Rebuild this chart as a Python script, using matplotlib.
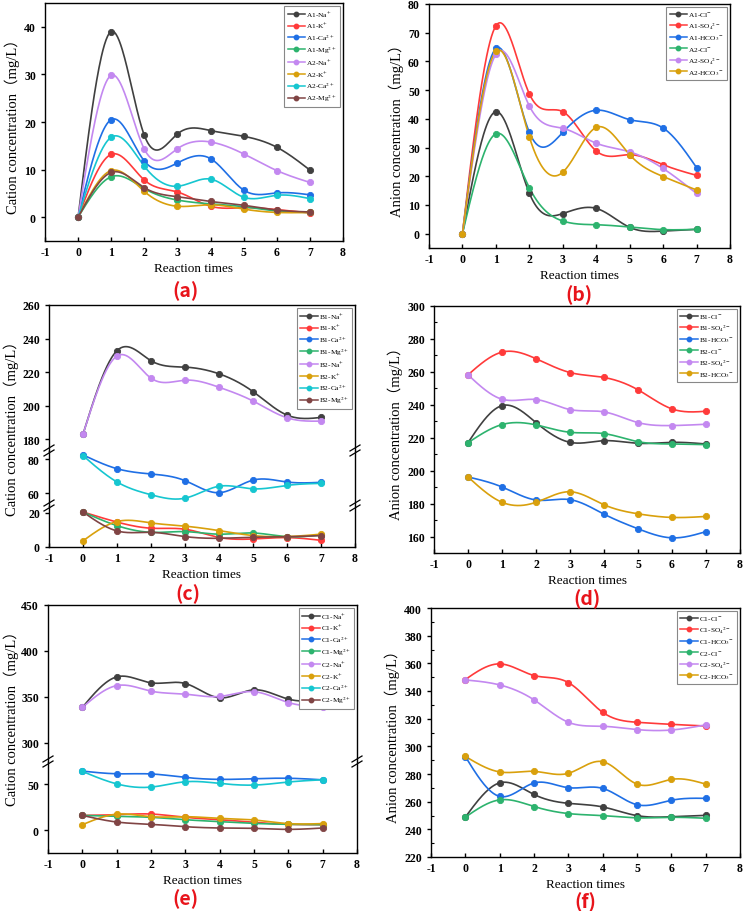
import numpy as np
import matplotlib
matplotlib.use('Agg')
import matplotlib.pyplot as plt
from matplotlib.lines import Line2D

plt.rcParams['font.family'] = ['Liberation Serif', 'Noto Sans CJK SC', 'DejaVu Sans']
plt.rcParams['mathtext.fontset'] = 'stix'
plt.rcParams['axes.unicode_minus'] = False

# ---------------- data ----------------
times = [0, 1, 2, 3, 4, 5, 6, 7]

# (a) cations, group A
a_labels = ['A1-Na$^{+}$', 'A1-K$^{+}$', 'A1-Ca$^{2+}$', 'A1-Mg$^{2+}$',
            'A2-Na$^{+}$', 'A2-K$^{+}$', 'A2-Ca$^{2+}$', 'A2-Mg$^{2+}$']
a1_na = [0, 39.0, 17.2, 17.5, 18.2, 17.0, 14.7, 9.9]
a1_k = [0, 13.2, 7.8, 5.3, 2.3, 2.0, 1.6, 0.9]
a1_ca = [0, 20.5, 11.8, 11.4, 12.3, 5.7, 5.1, 4.7]
a1_mg = [0, 8.5, 6.0, 3.6, 2.8, 2.2, 1.3, 1.0]
a2_na = [0, 29.8, 14.3, 14.4, 15.8, 13.3, 9.8, 7.3]
a2_k = [0, 9.8, 5.4, 2.3, 2.6, 1.7, 1.0, 1.0]
a2_ca = [0, 16.8, 10.7, 6.5, 8.0, 4.2, 4.6, 3.9]
a2_mg = [0, 9.4, 6.2, 4.3, 3.3, 2.5, 1.5, 1.1]

# (b) anions, group A
b_labels = ['A1-Cl$^{-}$', 'A1-SO$_4$$^{2-}$', 'A1-HCO$_3$$^{-}$',
            'A2-Cl$^{-}$', 'A2-SO$_4$$^{2-}$', 'A2-HCO$_3$$^{-}$']
a1_cl = [0, 42.5, 14.1, 7.0, 8.8, 2.2, 0.9, 1.5]
a1_so4 = [0, 72.4, 48.7, 42.5, 28.8, 27.5, 24.0, 20.3]
a1_hco3 = [0, 64.5, 35.3, 35.3, 43.0, 39.7, 36.8, 23.0]
a2_cl = [0, 34.8, 16.0, 4.4, 3.1, 2.3, 1.4, 1.5]
a2_so4 = [0, 62.5, 44.5, 36.7, 31.5, 28.5, 22.7, 14.0]
a2_hco3 = [0, 63.5, 33.7, 21.4, 37.0, 27.5, 19.9, 15.2]

# (c) cations, group B
c_labels = [s.replace('A', 'B') for s in a_labels]
b1_na = [183.0, 232.8, 226.8, 223.0, 219.0, 208.4, 194.4, 193.0]
b1_k = [20.5, 14.6, 11.0, 10.4, 5.6, 4.7, 5.5, 3.9]
b1_ca = [82.4, 74.3, 71.2, 67.3, 60.2, 67.6, 66.5, 66.3]
b1_mg = [20.5, 12.5, 8.6, 9.0, 7.5, 8.2, 6.1, 7.0]
b2_na = [183.0, 229.6, 216.4, 215.2, 211.0, 202.8, 192.8, 190.8]
b2_k = [3.6, 14.9, 14.1, 12.2, 9.6, 6.7, 6.1, 7.5]
b2_ca = [82.0, 66.5, 59.0, 57.0, 64.0, 62.5, 64.5, 65.7]
b2_mg = [20.5, 9.4, 8.6, 6.1, 5.1, 5.7, 6.0, 6.7]

# (d) anions, group B
d_labels = [s.replace('A', 'B') for s in b_labels]
b1_cl = [217.0, 239.5, 229.2, 217.2, 218.2, 216.6, 217.2, 216.2]
b1_so4 = [258.2, 272.0, 268.0, 259.6, 256.6, 249.1, 237.5, 236.1]
b1_hco3 = [196.2, 190.1, 182.2, 182.4, 173.6, 164.7, 159.2, 163.0]
b2_cl = [217.0, 228.0, 227.8, 223.3, 222.5, 217.6, 216.2, 215.8]
b2_so4 = [258.2, 243.4, 243.2, 237.1, 235.7, 229.2, 227.4, 228.2]
b2_hco3 = [196.2, 180.8, 180.8, 187.2, 179.3, 173.8, 171.6, 172.2]

# (e) cations, group C
e_labels = [s.replace('A', 'C') for s in a_labels]
c1_na = [338.4, 371.7, 365.2, 364.5, 348.9, 357.6, 347.5, 346.4]
c1_k = [15.9, 16.7, 17.4, 13.8, 11.2, 8.3, 6.2, 5.8]
c1_ca = [64.1, 61.2, 61.0, 57.2, 55.1, 55.8, 56.3, 54.6]
c1_mg = [15.9, 14.9, 13.8, 11.2, 9.1, 7.2, 6.2, 5.8]
c2_na = [338.4, 362.2, 356.2, 352.9, 350.4, 355.6, 343.8, 339.1]
c2_k = [5.8, 17.2, 14.5, 14.5, 12.7, 10.9, 7.0, 7.0]
c2_ca = [63.8, 50.2, 46.7, 52.5, 50.7, 48.9, 52.2, 54.7]
c2_mg = [15.9, 8.7, 6.2, 3.6, 2.2, 1.8, 0.7, 2.2]

# (f) anions, group C
f_labels = [s.replace('A', 'C') for s in b_labels]
c1_cl = [248.8, 273.6, 265.2, 258.8, 256.2, 249.9, 249.1, 250.1]
c1_so4 = [348.3, 359.6, 351.2, 346.1, 324.6, 317.4, 315.9, 314.7]
c1_hco3 = [292.6, 263.8, 273.5, 270.1, 269.6, 257.8, 261.0, 262.4]
c2_cl = [248.8, 261.3, 256.5, 251.4, 249.9, 248.3, 248.7, 248.0]
c2_so4 = [348.0, 344.4, 333.6, 317.4, 314.5, 312.1, 311.8, 315.5]
c2_hco3 = [292.7, 281.5, 281.9, 280.5, 288.9, 272.7, 276.1, 272.7]

cation_colors = ['#404040', '#FF3A3A', '#1F6FE5', '#2DB36E',
                 '#C388F0', '#D9A00C', '#16C6D0', '#804444']
anion_colors = ['#404040', '#FF3A3A', '#1F6FE5', '#2DB36E', '#C388F0', '#D9A00C']

W, H = 744, 912
fig = plt.figure(figsize=(W / 100, H / 100), dpi=100)


def smooth(x, y, num=300):
    # natural cubic spline, like Origin's spline connection
    x = np.asarray(x, float)
    y = np.asarray(y, float)
    n = len(x)
    h = np.diff(x)
    A = np.zeros((n, n))
    b = np.zeros(n)
    A[0, 0] = A[-1, -1] = 1
    for i in range(1, n - 1):
        A[i, i - 1] = h[i - 1]
        A[i, i] = 2 * (h[i - 1] + h[i])
        A[i, i + 1] = h[i]
        b[i] = 6 * ((y[i + 1] - y[i]) / h[i] - (y[i] - y[i - 1]) / h[i - 1])
    M = np.linalg.solve(A, b)
    xs = np.linspace(x[0], x[-1], num)
    idx = np.clip(np.searchsorted(x, xs) - 1, 0, n - 2)
    x0, x1 = x[idx], x[idx + 1]
    hh = x1 - x0
    t0, t1 = x1 - xs, xs - x0
    ys = ((M[idx] * t0 ** 3 + M[idx + 1] * t1 ** 3) / (6 * hh)
          + (y[idx] / hh - M[idx] * hh / 6) * t0
          + (y[idx + 1] / hh - M[idx + 1] * hh / 6) * t1)
    return xs, ys


def px_axes(l, t, r, b):
    return fig.add_axes([l / W, 1 - b / H, (r - l) / W, (b - t) / H])


def draw(ax, ys, color):
    xs, ss = smooth(times, ys)
    ax.plot(xs, ss, color=color, lw=1.2, zorder=2)
    ax.plot(times, ys, ls='none', marker='o', ms=4.5, mfc=color,
            mec=color, mew=0.6, zorder=3)


def style(ax, xticks=True, minor=False):
    ax.set_xlim(-1, 8)
    ax.tick_params(axis='x', direction='in', length=3, width=1, labelsize=8.5)
    ax.tick_params(axis='y', direction='out', length=3, width=1, labelsize=8.5)
    if xticks:
        ax.set_xticks(range(-1, 9), labels=[str(v) for v in range(-1, 9)],
                      fontweight='bold')
    else:
        ax.set_xticks([])
    yt = ax.get_yticks()
    ax.set_yticks(yt, labels=[str(int(v)) for v in yt], fontweight='bold')
    if minor:
        ax.yaxis.set_minor_locator(matplotlib.ticker.AutoMinorLocator(2))
        ax.tick_params(axis='y', which='minor', direction='in', length=2, width=0.8)
    for sp in ax.spines.values():
        sp.set_linewidth(1.0)


def legend(ax, labels, colors):
    handles = [Line2D([], [], color=c, lw=1.1, marker='o', ms=3.2, mfc=c, mec=c)
               for c in colors]
    leg = ax.legend(handles, labels, loc='upper right', fontsize=5.3,
                    frameon=True, fancybox=False, edgecolor='#888888',
                    framealpha=1, borderpad=0.45, labelspacing=0.32,
                    handlelength=2.4, handletextpad=0.15, borderaxespad=0.4)
    leg.get_frame().set_linewidth(0.8)


def ylab(ax, text):
    ax.set_ylabel(text, fontsize=10.5, labelpad=3)


def xlab(ax):
    ax.set_xlabel('Reaction times', fontsize=9.5, labelpad=3)


def letter(x, y, s):
    fig.text(x / W, 1 - y / H, s, color='#E8141B', fontsize=14,
             fontweight='bold', ha='center', va='center',
             family=['Noto Sans CJK SC', 'DejaVu Sans'])


def break_marks(y, xs):
    for x in xs:
        for off in (-3, 2):
            fig.add_artist(Line2D([(x - 5) / W, (x + 5) / W],
                                  [1 - (y + off + 3) / H, 1 - (y + off - 3) / H],
                                  color='k', lw=0.9, transform=fig.transFigure))


cat_label = 'Cation concentration（mg/L）'
an_label = 'Anion concentration（mg/L）'

# ---------- (a) ----------
ax = px_axes(45, 4, 343, 242)
for ys, c in zip([a1_na, a1_k, a1_ca, a1_mg, a2_na, a2_k, a2_ca, a2_mg], cation_colors):
    draw(ax, ys, c)
ax.set_ylim(-5, 45)
ax.set_yticks(range(0, 41, 10))
style(ax)
ylab(ax, cat_label)
xlab(ax)
legend(ax, a_labels, cation_colors)
letter(186, 291, '(a)')

# ---------- (b) ----------
ax = px_axes(429, 5, 730, 249)
for ys, c in zip([a1_cl, a1_so4, a1_hco3, a2_cl, a2_so4, a2_hco3], anion_colors):
    draw(ax, ys, c)
ax.set_ylim(-5, 80)
ax.set_yticks(range(0, 81, 10))
style(ax)
ylab(ax, an_label)
xlab(ax)
legend(ax, b_labels, anion_colors)
letter(579, 295, '(b)')

# ---------- (c) broken axis ----------
c_series = [b1_na, b1_k, b1_ca, b1_mg, b2_na, b2_k, b2_ca, b2_mg]
ax_t = px_axes(49, 306, 355, 452)
ax_m = px_axes(49, 452, 355, 507)
ax_b = px_axes(49, 507, 355, 548)
for ys, c in zip(c_series, cation_colors):
    for a in (ax_t, ax_m, ax_b):
        draw(a, ys, c)
ax_t.set_ylim(173, 260)
ax_t.set_yticks(range(180, 261, 20))
ax_m.set_ylim(52.4, 84.7)
ax_m.set_yticks([60, 80])
ax_b.set_ylim(0, 24)
ax_b.set_yticks([0, 20])
style(ax_t, xticks=False)
style(ax_m, xticks=False)
style(ax_b)
ax_t.spines['bottom'].set_visible(False)
ax_m.spines['top'].set_visible(False)
ax_m.spines['bottom'].set_visible(False)
ax_b.spines['top'].set_visible(False)
xlab(ax_b)
legend(ax_t, c_labels, cation_colors)
fig.text(11 / W, 1 - 425 / H, cat_label, rotation=90, fontsize=10.5,
         ha='center', va='center')
break_marks(452, [49, 355])
break_marks(507, [49, 355])
letter(188, 594, '(c)')

# ---------- (d) ----------
ax = px_axes(434, 307, 740, 554)
for ys, c in zip([b1_cl, b1_so4, b1_hco3, b2_cl, b2_so4, b2_hco3], anion_colors):
    draw(ax, ys, c)
ax.set_ylim(150, 300)
ax.set_yticks(range(160, 301, 20))
style(ax, minor=True)
ylab(ax, an_label)
xlab(ax)
legend(ax, d_labels, anion_colors)
letter(587, 599, '(d)')

# ---------- (e) broken axis ----------
e_series = [c1_na, c1_k, c1_ca, c1_mg, c2_na, c2_k, c2_ca, c2_mg]
ax_t = px_axes(48, 606, 357, 763)
ax_b = px_axes(48, 763, 357, 854)
for ys, c in zip(e_series, cation_colors):
    for a in (ax_t, ax_b):
        draw(a, ys, c)
ax_t.set_ylim(279, 450)
ax_t.set_yticks(range(300, 451, 50))
ax_b.set_ylim(-25, 74)
ax_b.set_yticks([0, 50])
style(ax_t, xticks=False)
style(ax_b)
ax_t.spines['bottom'].set_visible(False)
ax_b.spines['top'].set_visible(False)
xlab(ax_b)
legend(ax_t, e_labels, cation_colors)
fig.text(11 / W, 1 - 715 / H, cat_label, rotation=90, fontsize=10.5,
         ha='center', va='center')
break_marks(763, [48, 357])
letter(185, 899, '(e)')

# ---------- (f) ----------
ax = px_axes(431, 609, 740, 858)
for ys, c in zip([c1_cl, c1_so4, c1_hco3, c2_cl, c2_so4, c2_hco3], anion_colors):
    draw(ax, ys, c)
ax.set_ylim(220, 400)
ax.set_yticks(range(220, 401, 20))
style(ax, minor=True)
ylab(ax, an_label)
xlab(ax)
legend(ax, f_labels, anion_colors)
letter(585, 902, '(f)')

fig.savefig('out.png', dpi=100)
